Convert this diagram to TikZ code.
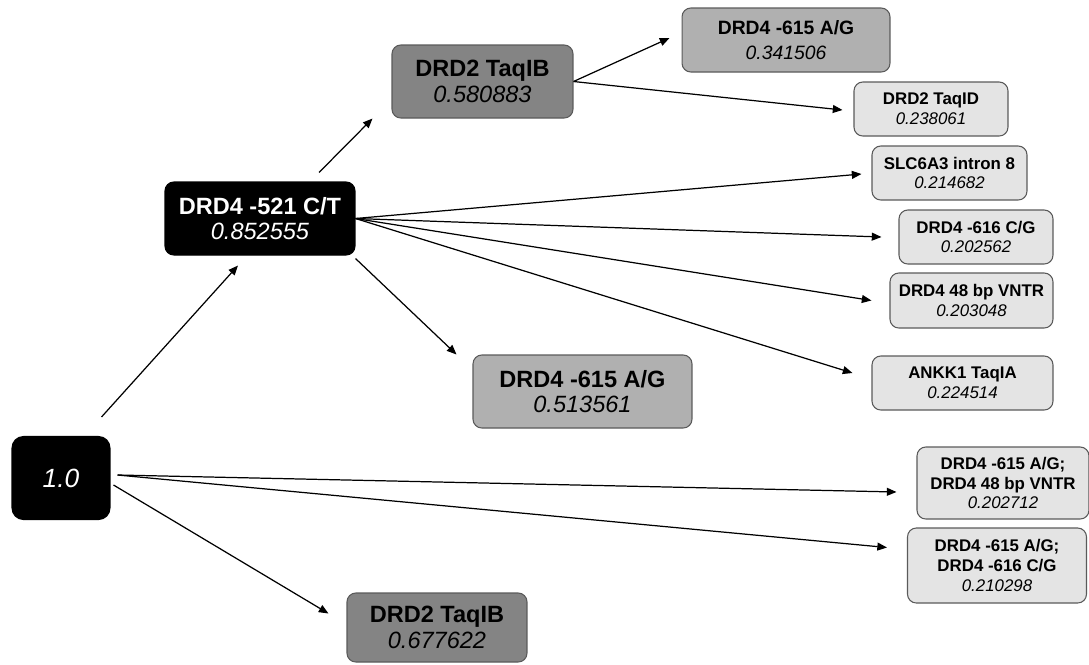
\documentclass[tikz,border=0pt]{standalone}
\usepackage{fontspec}
\setmainfont{Liberation Sans}
\usetikzlibrary{arrows.meta, calc}

\definecolor{darkfill}{HTML}{848484}
\definecolor{midfill}{HTML}{B0B0B0}
\definecolor{lightfill}{HTML}{E4E4E4}
\definecolor{rim}{HTML}{5A5A5A}

\newcommand{\snp}[2]{\textbf{#1}\\\textit{#2}}

\begin{document}
\begin{tikzpicture}[x=0.02cm, y=-0.02cm,
    box/.style={draw=rim, line width=0.6pt, rounded corners=5pt, align=center, inner sep=0pt},
    bigfont/.style={font=\fontsize{13.4}{14.7}\selectfont},
    midfont/.style={font=\fontsize{11}{14.2}\selectfont},
    smallfont/.style={font=\fontsize{9.6}{11.3}\selectfont},
    blackbox/.style={box, fill=black, draw=black, text=white, bigfont},
    darkbox/.style={box, fill=darkfill, bigfont},
    midbox/.style={box, fill=midfill},
    lightbox/.style={box, fill=lightfill, smallfont},
    arr/.style={-{Triangle[length=5.5pt,width=4.5pt]}, line width=0.7pt}]
    \useasboundingbox (0,0) rectangle (1089,664);

    % level 0 and 1
    \node[blackbox, rounded corners=6.5pt, font=\fontsize{15}{18}\selectfont, minimum width=1.96cm, minimum height=1.66cm] (root) at (61,478) {\textit{1.0}};
    \node[blackbox, minimum width=3.8cm, minimum height=1.46cm] (n521) at (260,218.5) {\snp{DRD4 -521 C/T}{0.852555}};
    \node[darkbox, minimum width=3.6cm, minimum height=1.38cm] (taqIBb) at (437,627.5) {\snp{DRD2 TaqIB}{0.677622}};
    \node[lightbox, minimum width=3.44cm, minimum height=1.44cm] (combo1) at (1003,483) {\textbf{DRD4 -615 A/G;}\\\textbf{DRD4 48 bp VNTR}\\\textit{0.202712}};
    \node[lightbox, minimum width=3.58cm, minimum height=1.5cm] (combo2) at (997,565.5) {\textbf{DRD4 -615 A/G;}\\\textbf{DRD4 -616 C/G}\\\textit{0.210298}};

    % level 2
    \node[darkbox, minimum width=3.62cm, minimum height=1.46cm] (taqIBa) at (482.5,81.5) {\snp{DRD2 TaqIB}{0.580883}};
    \node[midbox, bigfont, minimum width=4.38cm, minimum height=1.46cm] (a615b) at (582.5,391.5) {\snp{DRD4 -615 A/G}{0.513561}};
    \node[lightbox, minimum width=3.1cm, minimum height=1.08cm] (slc) at (949.5,173) {\snp{SLC6A3 intron 8}{0.214682}};
    \node[lightbox, minimum width=3.08cm, minimum height=1.08cm] (c616) at (976,237) {\snp{DRD4 -616 C/G}{0.202562}};
    \node[lightbox, minimum width=3.26cm, minimum height=1.1cm] (vntr) at (971.5,300.5) {\snp{DRD4 48 bp VNTR}{0.203048}};
    \node[lightbox, minimum width=3.62cm, minimum height=1.08cm] (ankk) at (962.5,383) {\snp{ANKK1 TaqIA}{0.224514}};

    % level 3
    \node[midbox, midfont, minimum width=4.16cm, minimum height=1.28cm] (a615a) at (786,40) {\snp{DRD4 -615 A/G}{0.341506}};
    \node[lightbox, minimum width=3.08cm, minimum height=1.08cm] (taqID) at (931,109) {\snp{DRD2 TaqID}{0.238061}};

    \draw[arr] ($(root.north east)+(-9,-19)$) -- ($(n521.south)+(-22,10)$);
    \draw[arr] ($(root.east)+(7,-3)$) -- ($(combo1.west)+(-20,9)$);
    \draw[arr] ($(root.east)+(7,-3)$) -- ($(combo2.west)+(-20,-18)$);
    \draw[arr] ($(root.east)+(3,7)$) -- ($(taqIBb.west)+(-18,-14)$);

    \draw[arr] ($(n521.north)+(59,-9)$) -- ($(taqIBa.south west)+(-19,0)$);
    \draw[arr] ($(n521.south east)+(0,3)$) -- ($(a615b.north west)+(-16,0)$);
    \draw[arr] (n521.east) -- ($(slc.west)+(-10,1)$);
    \draw[arr] (n521.east) -- ($(c616.west)+(-17,0)$);
    \draw[arr] (n521.east) -- ($(vntr.west)+(-18,0)$);
    \draw[arr] (n521.east) -- ($(ankk.west)+(-19,-10)$);

    \draw[arr] (taqIBa.east) -- ($(a615a.west)+(-12,-2)$);
    \draw[arr] (taqIBa.east) -- ($(taqID.west)+(-11,1)$);
\end{tikzpicture}
\end{document}
